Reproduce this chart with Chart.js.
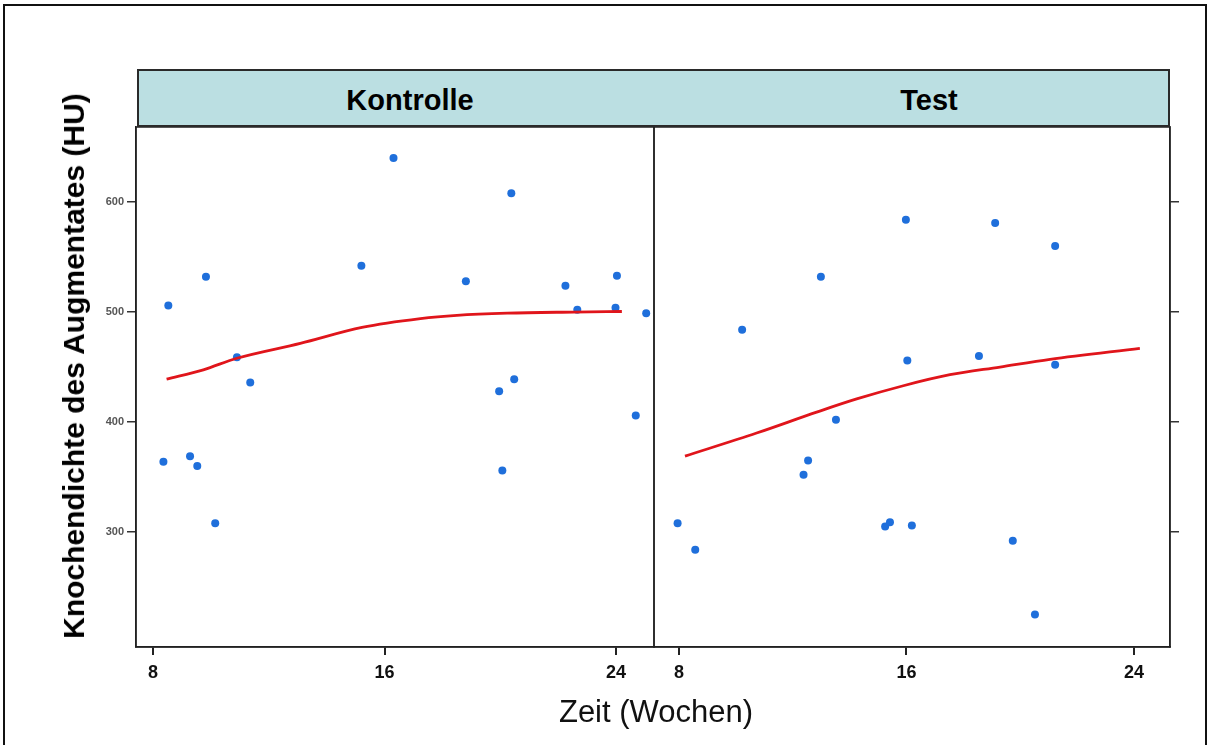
<!DOCTYPE html>
<html>
<head>
<meta charset="utf-8">
<script src="https://cdn.jsdelivr.net/npm/chart.js@4.4.1/dist/chart.umd.min.js"></script>
<style>
  html, body { margin: 0; padding: 0; background: #fff; }
  body { width: 1212px; height: 745px; position: relative; overflow: hidden; font-family: "Liberation Sans", Arial, sans-serif; }
  #frame { position: absolute; left: 3px; top: 4px; width: 1204px; height: 760px; border: 2px solid #111; box-sizing: border-box; }
  #strip { position: absolute; left: 137px; top: 69px; width: 1033px; height: 58px; background: #bbdfe2; border: 2px solid #2a2a2a; box-sizing: border-box; }
  .stripLabel { position: absolute; top: 100px; font-weight: bold; font-size: 29px; color: #000; transform: translate(-50%, -50%); white-space: nowrap; }
  #ytitle { position: absolute; left: 74px; top: 366px; transform: translate(-50%, -50%) rotate(-90deg); font-weight: bold; font-size: 30px; white-space: nowrap; color: #000; }
  #xtitle { position: absolute; left: 656px; top: 712px; transform: translate(-50%, -50%); font-size: 31px; white-space: nowrap; color: #111; }
  canvas { position: absolute; }
</style>
</head>
<body>
<div id="frame"></div>
<canvas id="left" width="600" height="600" style="left:60px; top:100px; width:600px; height:600px;"></canvas>
<canvas id="right" width="570" height="600" style="left:644px; top:100px; width:570px; height:600px;"></canvas>
<div id="strip"></div>
<div class="stripLabel" style="left:410px;">Kontrolle</div>
<div class="stripLabel" style="left:929px;">Test</div>
<div id="ytitle">Knochendichte des Augmentates (HU)</div>
<div id="xtitle">Zeit (Wochen)</div>
<script>
// ---- data ----
const panelNames = ["Kontrolle", "Test"];
const xTickValues = [8, 16, 24];
const yTickValues = [300, 400, 500, 600];

const kontrolleWeeks = [8.53, 9.83, 16.31, 15.2, 20.38, 18.81, 22.25, 24.03, 22.66, 23.98, 25.04, 10.9, 11.36, 20.48, 19.96, 24.68, 8.36, 9.28, 9.53, 20.07, 10.15];
const kontrolleHU    = [506, 532, 640, 542, 608, 528, 524, 533, 502, 504, 499, 459, 436, 439, 428, 406, 364, 369, 360, 356, 308];

const testWeeks = [15.98, 19.12, 21.23, 12.99, 10.22, 16.03, 18.55, 21.23, 13.52, 12.54, 12.38, 7.95, 8.57, 15.25, 15.42, 16.19, 19.74, 20.52];
const testHU    = [584, 581, 560, 532, 484, 456, 460, 452, 402, 365, 352, 308, 284, 305, 309, 306, 292, 225];

const kontrolleFitWeeks = [8.47, 9.74, 10.9, 13.09, 15.22, 17.24, 18.5, 20.24, 22.54, 24.2];
const kontrolleFitHU    = [439, 447.5, 458, 471.5, 486, 494, 497, 499, 500, 500.5];

const testFitWeeks = [8.21, 10.73, 12.84, 14.25, 15.89, 17.53, 19.29, 21.05, 24.21];
const testFitHU    = [369, 390, 409, 421, 433, 443, 450, 457, 467];

// ---- helpers ----
function pts(xs, ys) { return xs.map((x, i) => ({ x: x, y: ys[i] })); }

const boxPlugin = {
  id: 'box',
  afterDraw(chart) {
    const a = chart.chartArea, c = chart.ctx;
    c.save();
    c.strokeStyle = '#222';
    c.lineWidth = 1.5;
    c.strokeRect(a.left, a.top, a.right - a.left, a.bottom - a.top);
    c.restore();
  }
};

function makePanel(id, xs, ys, fx, fy, xmin, xmax, side, padding, yWidth, showYLabels) {
  return new Chart(document.getElementById(id), {
    type: 'scatter',
    data: {
      datasets: [
        { type: 'line', data: pts(fx, fy), borderColor: '#e0151b', borderWidth: 2.8, pointRadius: 0, cubicInterpolationMode: 'monotone', fill: false, order: 1 },
        { data: pts(xs, ys), backgroundColor: '#1f6fdb', borderWidth: 0, pointRadius: 4, pointHoverRadius: 4, order: 2 }
      ]
    },
    options: {
      responsive: false,
      animation: false,
      events: [],
      layout: { padding: padding },
      plugins: { legend: { display: false }, tooltip: { enabled: false } },
      scales: {
        x: {
          type: 'linear', min: xmin, max: xmax,
          afterBuildTicks: s => { s.ticks = xTickValues.map(v => ({ value: v })); },
          afterFit: s => { s.height = 53; },
          grid: { drawOnChartArea: false, drawTicks: true, tickLength: 8, color: '#222', lineWidth: 2 },
          border: { display: true, color: '#222', width: 1.5 },
          ticks: { color: '#111', font: { family: 'Liberation Sans', size: 18, weight: 'bold' }, padding: 7, maxRotation: 0 }
        },
        y: {
          type: 'linear', position: side, min: 195.5, max: 668.2,
          afterBuildTicks: s => { s.ticks = yTickValues.map(v => ({ value: v })); },
          afterFit: s => { s.width = yWidth; },
          grid: { drawOnChartArea: false, drawTicks: true, tickLength: 9, color: '#333', lineWidth: 1.5 },
          border: { display: true, color: '#222', width: 1.5 },
          ticks: { display: showYLabels, color: '#555', font: { family: 'Liberation Sans', size: 11, weight: 'bold' }, padding: 3 }
        }
      }
    },
    plugins: [boxPlugin]
  });
}

// left panel: chart area x 136..654, y 127..647
makePanel('left', kontrolleWeeks, kontrolleHU, kontrolleFitWeeks, kontrolleFitHU, 7.413, 25.31, 'left',
  { top: 27, right: 6, left: 0, bottom: 0 }, 76, true);
// right panel: chart area x 654..1170, y 127..647
makePanel('right', testWeeks, testHU, testFitWeeks, testFitHU, 7.12, 25.27, 'right',
  { top: 27, right: 0, left: 10, bottom: 0 }, 44, false);
</script>
</body>
</html>
